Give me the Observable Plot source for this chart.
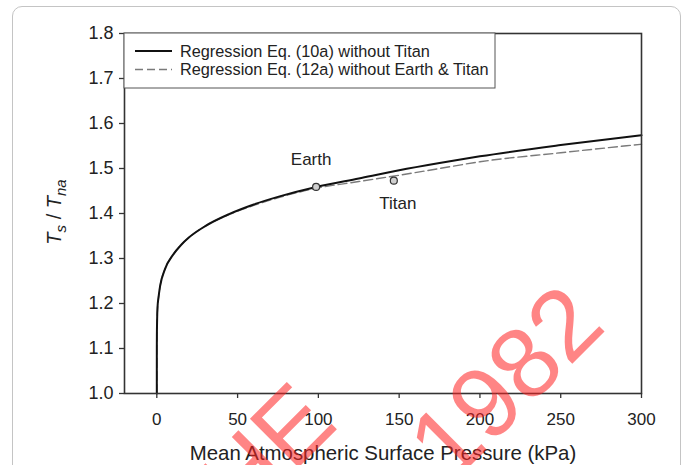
<!DOCTYPE html>
<html>
<head>
<meta charset="utf-8">
<script src="https://cdn.jsdelivr.net/npm/d3@7"></script>
<script src="https://cdn.jsdelivr.net/npm/@observablehq/plot@0.6"></script>
<style>
  html, body { margin: 0; padding: 0; background: #fff; overflow: hidden; }
  #wrap { position: relative; width: 693px; height: 465px; overflow: hidden; }
  #card { position: absolute; left: 12px; top: 6px; width: 669px; height: 520px;
          border: 1px solid #c4c4c4; border-radius: 10px; box-sizing: border-box; }
  #chart { position: absolute; left: 0; top: 0; }
</style>
</head>
<body>
<div id="wrap"><div id="card"></div><div id="chart"></div></div>
<script>
// ---- data ----
const xTicks = [0, 50, 100, 150, 200, 250, 300];
const yTicks = [1.0, 1.1, 1.2, 1.3, 1.4, 1.5, 1.6, 1.7, 1.8];

const eq10aP = [0, 0.0001, 0.001, 0.01, 0.05, 0.2, 0.5, 1, 2, 5, 10, 15, 20, 30, 45, 60, 76, 98.6, 125, 150, 175, 200, 250, 300];
const eq10aR = [1.0, 1.05, 1.07, 1.10, 1.13, 1.165, 1.195, 1.212, 1.238, 1.276, 1.308, 1.330, 1.347, 1.372, 1.399, 1.420, 1.438, 1.459, 1.478, 1.496, 1.512, 1.527, 1.552, 1.574];

const eq12aP = [0, 0.0001, 0.001, 0.01, 0.05, 0.2, 0.5, 1, 2, 5, 10, 15, 20, 30, 45, 60, 76, 98.6, 125, 150, 175, 200, 250, 300];
const eq12aR = [1.0, 1.05, 1.07, 1.10, 1.13, 1.165, 1.195, 1.212, 1.238, 1.276, 1.308, 1.330, 1.347, 1.372, 1.398, 1.418, 1.436, 1.456, 1.471, 1.485, 1.500, 1.515, 1.535, 1.554];

const planetNames = ["Earth", "Titan"];
const planetP = [98.6, 146.7];
const planetR = [1.459, 1.473];

const seriesNames = ["Regression Eq. (10a) without Titan", "Regression Eq. (12a) without Earth & Titan"];

// ---- build tables ----
const eq10a = eq10aP.map((p, i) => ({p, r: eq10aR[i]}));
const eq12a = eq12aP.map((p, i) => ({p, r: eq12aR[i]}));
const planets = planetNames.map((name, i) => ({name, p: planetP[i], r: planetR[i]}));

const font = "'Liberation Sans', Arial, Helvetica, sans-serif";

const plot = Plot.plot({
  width: 693,
  height: 465,
  marginLeft: 124,
  marginRight: 52,
  marginTop: 33,
  marginBottom: 72,
  style: {fontFamily: font, background: "transparent", color: "#222", overflow: "visible"},
  x: {domain: [-20, 300], label: null},
  y: {domain: [1.0, 1.8], label: null},
  marks: [
    Plot.line(eq12a, {x: "p", y: "r", stroke: "#7a7a7a", strokeWidth: 1.4, strokeDasharray: "9,4", curve: "monotone-x"}),
    Plot.line(eq10a, {x: "p", y: "r", stroke: "#111", strokeWidth: 2, curve: "monotone-x"}),
    Plot.dot(planets, {x: "p", y: "r", r: 3.5, fill: "#cfcfcf", stroke: "#333", strokeWidth: 1.2}),
    Plot.text(planets.filter(d => d.name === "Earth"), {x: "p", y: "r", text: "name", dx: -5, dy: -27, fontSize: 17, fill: "#222"}),
    Plot.text(planets.filter(d => d.name === "Titan"), {x: "p", y: "r", text: "name", dx: 4, dy: 23, fontSize: 17, fill: "#222"}),
    Plot.axisX({ticks: xTicks, tickSize: 5, tickPadding: 14, fontSize: 17, stroke: "#333", strokeWidth: 1.3, label: null, tickFormat: d3.format("d")}),
    Plot.axisY({ticks: yTicks, tickSize: 5, tickPadding: 6, fontSize: 18, stroke: "#333", strokeWidth: 1.3, label: null, tickFormat: d3.format(".1f")}),
    Plot.frame({stroke: "#333", strokeWidth: 1.6})
  ]
});

document.getElementById("chart").appendChild(plot);

const svg = d3.select(plot);

// legend box (inside top-left of the frame)
const lg = svg.append("g").attr("font-family", font).attr("font-size", 16.3).attr("fill", "#222")
  .attr("text-anchor", "start");
lg.append("rect").attr("x", 124).attr("y", 33).attr("width", 371).attr("height", 55)
  .attr("fill", "#fff").attr("stroke", "#555").attr("stroke-width", 1);
lg.append("line").attr("x1", 135).attr("x2", 172).attr("y1", 51).attr("y2", 51)
  .attr("stroke", "#111").attr("stroke-width", 2);
lg.append("line").attr("x1", 135).attr("x2", 172).attr("y1", 69.5).attr("y2", 69.5)
  .attr("stroke", "#7a7a7a").attr("stroke-width", 1.4).attr("stroke-dasharray", "8,4");
lg.append("text").attr("x", 180).attr("y", 56.5).attr("text-anchor", "start").text(seriesNames[0]);
lg.append("text").attr("x", 180).attr("y", 75).attr("text-anchor", "start").text(seriesNames[1]);

// x axis title
svg.append("text").attr("x", 383).attr("y", 460).attr("text-anchor", "middle")
  .attr("font-family", font).attr("font-size", 20.4).attr("fill", "#222")
  .text("Mean Atmospheric Surface Pressure (kPa)");

// y axis title: Ts / Tna
const yl = svg.append("text").attr("transform", "translate(61,212) rotate(-90)")
  .attr("text-anchor", "middle").attr("font-family", font).attr("font-size", 20).attr("fill", "#222");
yl.append("tspan").attr("font-style", "italic").text("T");
yl.append("tspan").attr("font-style", "italic").attr("font-size", 15).attr("dy", 5).text("s");
yl.append("tspan").attr("dy", -5).text(" / ");
yl.append("tspan").attr("font-style", "italic").text("T");
yl.append("tspan").attr("font-style", "italic").attr("font-size", 15).attr("dy", 5).text("na");

// watermark
const wm = svg.append("g").attr("font-family", font).attr("font-size", 100)
  .attr("fill", "#ff2020").attr("fill-opacity", 0.55);
wm.append("text").attr("text-anchor", "end").attr("transform", "translate(608,328) rotate(-45)").text("1982");
wm.append("text").attr("text-anchor", "end").attr("transform", "translate(340,426) rotate(-45)").text("HE");
</script>
</body>
</html>
